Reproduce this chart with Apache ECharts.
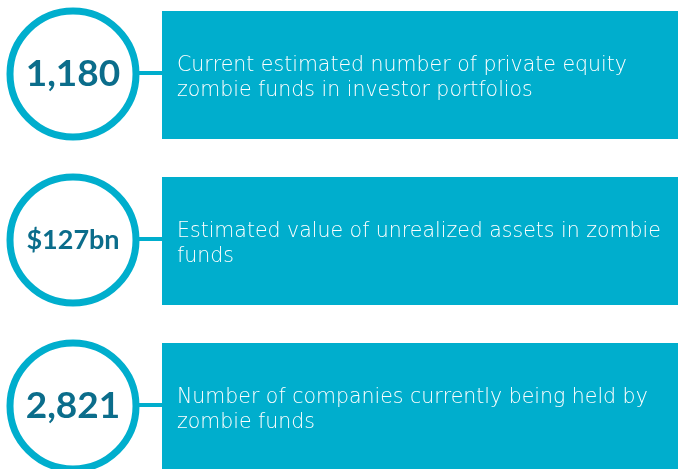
<!DOCTYPE html>
<html>
<head>
<meta charset="utf-8">
<script src="https://cdn.jsdelivr.net/npm/echarts@6/dist/echarts.min.js"></script>
<style>
  html, body { margin: 0; padding: 0; background: #fff; }
  #main { width: 678px; height: 469px; }
</style>
</head>
<body>
<div id="main"></div>
<script>
// figures and their captions
var rows = ['r1', 'r2', 'r3']
var figures = ['1,180', '$127bn', '2,821']
var captions = [
    'Current estimated number of private equity\nzombie funds in investor portfolios',
    'Estimated value of unrealized assets in zombie\nfunds',
    'Number of companies currently being held by\nzombie funds'
]

var ring = '#00aecd'
var dark = '#0b6d8b'

var chart = echarts.init(document.getElementById('main'))

// shrink the big figure so it fits inside the circle
var ctx = document.createElement('canvas').getContext('2d')
function figureFont(txt) {
    var size = 37
    ctx.font = 'bold ' + size + 'px Lato'
    var w = ctx.measureText(txt).width
    if (w > 96) size = Math.floor(size * 96 / w)
    return 'bold ' + size + 'px Lato'
}

// each row: circle with figure, connector, box with caption
function renderRow(params, api) {
    var i = api.value(0)
    var c = api.coord([73, i])
    var cy = c[1]
    var boxLeft = api.coord([162, i])[0]
    var boxRight = api.coord([678, i])[0]
    var boxTop = cy - 63
    var boxH = 128
    return {
        type: 'group',
        children: [
            {
                type: 'rect',
                shape: {x: boxLeft, y: boxTop, width: boxRight - boxLeft, height: boxH},
                style: {fill: ring}
            },
            {
                type: 'line',
                shape: {x1: c[0] + 62, y1: cy - 1, x2: boxLeft, y2: cy - 1},
                style: {stroke: ring, lineWidth: 4}
            },
            {
                type: 'circle',
                shape: {cx: c[0], cy: cy, r: 63},
                style: {fill: '#fff', stroke: ring, lineWidth: 7}
            },
            {
                type: 'text',
                style: {
                    x: c[0], y: cy,
                    text: figures[i],
                    fill: dark,
                    font: figureFont(figures[i]),
                    align: 'center',
                    verticalAlign: 'middle'
                }
            },
            {
                type: 'text',
                style: {
                    x: boxLeft + 15, y: cy + 4,
                    text: captions[i],
                    fill: '#fff',
                    font: '200 20.5px "DejaVu Sans"',
                    lineHeight: 25,
                    align: 'left',
                    verticalAlign: 'middle'
                }
            }
        ]
    }
}

chart.setOption({
    animation: false,
    grid: {left: 0, width: 678, top: -9, height: 498, outerBoundsMode: 'none'},
    xAxis: {type: 'value', min: 0, max: 678, show: false},
    yAxis: {type: 'category', data: rows, inverse: true, show: false},
    series: [{
        type: 'custom',
        renderItem: renderRow,
        data: rows.map(function (r, i) { return [i] }),
        clip: false
    }]
})
</script>
</body>
</html>
